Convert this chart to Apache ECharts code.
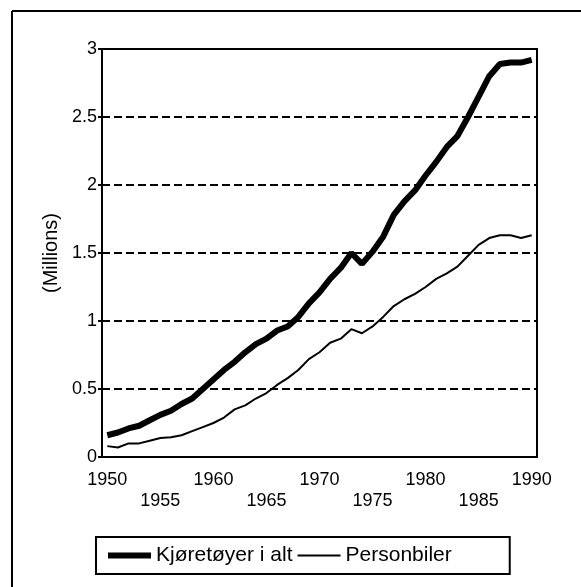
<!DOCTYPE html>
<html>
<head>
<meta charset="utf-8">
<script src="https://cdn.jsdelivr.net/npm/echarts@6/dist/echarts.min.js"></script>
<style>
  html, body { margin: 0; padding: 0; background: #fff; }
  #main { width: 581px; height: 587px; }
</style>
</head>
<body>
<div id="main"></div>
<script>
// years 1950..1990
var years = [];
for (var y = 1950; y <= 1990; y++) years.push(String(y));

// Kjøretøyer i alt (millions)
var kjoretoyer = [0.16, 0.18, 0.21, 0.23, 0.27, 0.31, 0.34, 0.39, 0.43, 0.50,
  0.57, 0.64, 0.70, 0.77, 0.83, 0.87, 0.93, 0.96, 1.03, 1.13,
  1.21, 1.31, 1.39, 1.50, 1.42, 1.51, 1.62, 1.78, 1.88, 1.96,
  2.07, 2.17, 2.28, 2.36, 2.50, 2.65, 2.80, 2.89, 2.90, 2.90, 2.92];

// Personbiler (millions)
var personbiler = [0.08, 0.07, 0.10, 0.10, 0.12, 0.14, 0.145, 0.16, 0.19, 0.22,
  0.25, 0.29, 0.35, 0.38, 0.43, 0.47, 0.53, 0.58, 0.64, 0.72,
  0.77, 0.84, 0.87, 0.94, 0.91, 0.96, 1.03, 1.11, 1.16, 1.20,
  1.25, 1.31, 1.35, 1.40, 1.48, 1.56, 1.61, 1.63, 1.63, 1.61, 1.63];

var yTicks = [0, 0.5, 1, 1.5, 2, 2.5, 3];

var font = 'Liberation Sans, Arial, sans-serif';
var myChart = echarts.init(document.getElementById('main'));

var option = {
  animation: false,
  backgroundColor: '#fff',
  textStyle: { fontFamily: font, color: '#000' },
  graphic: [
    { type: 'line', shape: { x1: 12, y1: 11, x2: 12, y2: 587 }, style: { stroke: '#000', lineWidth: 2 } },
    { type: 'line', shape: { x1: 12, y1: 11, x2: 581, y2: 11 }, style: { stroke: '#000', lineWidth: 2 } }
  ],
  grid: {
    left: 102, right: 44, top: 49, bottom: 130,
    show: true, borderColor: '#000', borderWidth: 2, backgroundColor: 'transparent'
  },
  legend: {
    left: 96, top: 537,
    padding: [8, 58, 8, 9],
    itemGap: 4,
    itemWidth: 43,
    itemHeight: 20,
    borderColor: '#000', borderWidth: 2,
    itemStyle: { opacity: 0 },
    textStyle: { fontFamily: font, fontSize: 21, color: '#000' },
    data: [
      { name: 'Kjøretøyer i alt', lineStyle: { width: 6, color: '#000' } },
      { name: 'Personbiler', lineStyle: { width: 2, color: '#000' } }
    ]
  },
  xAxis: {
    type: 'category',
    data: years,
    boundaryGap: true,
    axisLine: { lineStyle: { color: '#000', width: 2 } },
    axisTick: { alignWithLabel: true, interval: 0, length: 5, lineStyle: { color: '#000', width: 2 } },
    axisLabel: {
      interval: 4,
      margin: 13,
      fontSize: 18,
      lineHeight: 21,
      color: '#000',
      fontFamily: font,
      formatter: function (v) {
        return (Number(v) % 10 === 5) ? '\n' + v : v;
      },
      verticalAlign: 'top'
    },
    splitLine: { show: false }
  },
  yAxis: {
    type: 'value',
    min: 0, max: 3, interval: 0.5,
    name: '(Millions)',
    nameLocation: 'middle',
    nameRotate: 90,
    nameGap: 38,
    nameTextStyle: { fontFamily: font, fontSize: 20, color: '#000' },
    axisLine: { show: true, lineStyle: { color: '#000', width: 2 } },
    axisTick: { show: true, length: 4, lineStyle: { color: '#000', width: 2 } },
    axisLabel: {
      margin: 5, fontSize: 18, color: '#000', fontFamily: font,
      formatter: function (v) { return yTicks.indexOf(v) >= 0 ? String(v) : ''; }
    },
    splitLine: { show: true, lineStyle: { color: '#000', width: 2, type: [8, 4] } }
  },
  series: [
    {
      name: 'Kjøretøyer i alt',
      type: 'line',
      data: kjoretoyer,
      symbol: 'none',
      lineStyle: { color: '#000', width: 6 },
      itemStyle: { color: '#000' }
    },
    {
      name: 'Personbiler',
      type: 'line',
      data: personbiler,
      symbol: 'none',
      lineStyle: { color: '#000', width: 2 },
      itemStyle: { color: '#000' }
    }
  ]
};

myChart.setOption(option);
</script>
</body>
</html>
